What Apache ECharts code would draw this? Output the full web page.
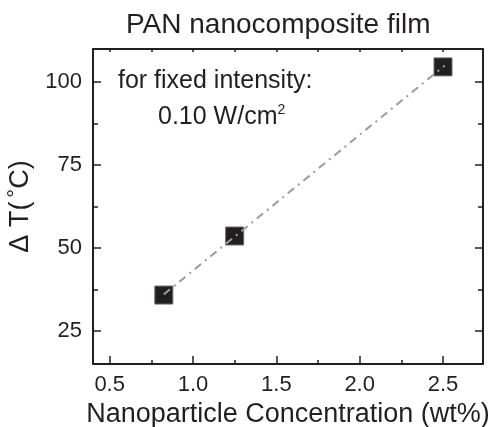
<!DOCTYPE html>
<html>
<head>
<meta charset="utf-8">
<script src="https://cdn.jsdelivr.net/npm/echarts@6/dist/echarts.min.js"></script>
<style>
  html, body { margin: 0; padding: 0; background: #fff; }
  #chart { width: 498px; height: 427px; }
</style>
</head>
<body>
<div id="chart"></div>
<script>
// Temperature rise vs. nanoparticle loading in a PAN film
const concentration = [0.825, 1.25, 2.5];      // wt%
const deltaT = [35.8, 53.6, 104.6];            // °C

// Linear fit line endpoints (dash-dot)
const fitX = [0.825, 2.51];
const fitY = [36.0, 105.0];

// Tick positions
const xMajorTicks = [0.5, 1.0, 1.5, 2.0, 2.5];
const xMinorTicks = [0.75, 1.25, 1.75, 2.25];
const yMajorTicks = [25, 50, 75, 100];
const yMinorTicks = [37.5, 62.5, 87.5];

const X_MIN = 0.4, X_MAX = 2.74;
const Y_MIN = 15, Y_MAX = 110;

const FONT = 'Liberation Sans, Arial, Helvetica, sans-serif';
const INK = '#231f20';

function frameAxis(pos, ticks, len, opts) {
  return Object.assign({
    type: 'value',
    position: pos,
    axisLine: { show: true, onZero: false, lineStyle: { color: INK, width: 2 } },
    axisTick: { show: true, inside: true, length: len, customValues: ticks,
                lineStyle: { color: INK, width: 1.5 } },
    axisLabel: { show: false },
    splitLine: { show: false }
  }, opts);
}

const chart = echarts.init(document.getElementById('chart'), null, { renderer: 'canvas' });

const xBase = { min: X_MIN, max: X_MAX };
const yBase = { min: Y_MIN, max: Y_MAX };

chart.setOption({
  animation: false,
  backgroundColor: '#fff',
  title: {
    text: 'PAN nanocomposite film',
    left: 121,
    top: 6,
    textStyle: { fontFamily: FONT, fontSize: 28, fontWeight: 'normal', color: INK }
  },
  grid: { left: 93, right: 15, top: 49, bottom: 63, outerBoundsMode: 'none', containLabel: false },
  xAxis: [
    frameAxis('bottom', xMajorTicks, 8, Object.assign({}, xBase, {
      name: 'Nanoparticle Concentration (wt%)',
      nameLocation: 'middle',
      nameGap: 34,
      nameTextStyle: { fontFamily: FONT, fontSize: 27, color: INK },
      axisLabel: {
        show: true, customValues: xMajorTicks, margin: 10,
        fontFamily: FONT, fontSize: 22, color: INK,
        formatter: v => Number(v).toFixed(1)
      }
    })),
    frameAxis('bottom', xMinorTicks, 4, Object.assign({}, xBase, { axisLine: { show: false } })),
    frameAxis('top', xMajorTicks.concat(xMinorTicks), 3, Object.assign({}, xBase))
  ],
  yAxis: [
    frameAxis('left', yMajorTicks, 8, Object.assign({}, yBase, {
      name: '{a|Δ T(}{s|°}{a|C)}',
      nameLocation: 'middle',
      nameGap: 52,
      nameRotate: 90,
      nameTextStyle: {
        fontFamily: FONT, fontSize: 27, color: INK,
        rich: {
          a: { fontFamily: FONT, fontSize: 27, color: INK },
          s: { fontFamily: FONT, fontSize: 22, color: INK, verticalAlign: 'top', padding: [0, 0, 8, 4] }
        }
      },
      axisLabel: {
        show: true, customValues: yMajorTicks, margin: 11,
        fontFamily: FONT, fontSize: 22, color: INK
      }
    })),
    frameAxis('left', yMinorTicks, 5, Object.assign({}, yBase, { axisLine: { show: false } })),
    frameAxis('right', yMajorTicks, 8, Object.assign({}, yBase)),
    frameAxis('right', yMinorTicks, 5, Object.assign({}, yBase, { axisLine: { show: false } }))
  ],
  graphic: [
    {
      type: 'text', left: 118, top: 69, z: 10,
      style: { text: 'for fixed intensity:', font: '25px ' + FONT, fill: INK }
    },
    {
      type: 'text', left: 158, top: 103, z: 10,
      style: {
        text: '{a|0.10 W/cm}{s|2}',
        fill: INK,
        rich: {
          a: { fontFamily: FONT, fontSize: 25, fill: INK },
          s: { fontFamily: FONT, fontSize: 14, fill: INK, verticalAlign: 'top', padding: [0, 0, 14, 0] }
        }
      }
    }
  ],
  series: [
    {
      type: 'scatter',
      xAxisIndex: 0, yAxisIndex: 0,
      symbol: 'rect',
      symbolSize: 18,
      itemStyle: { color: INK, borderColor: '#6a6a6a', borderWidth: 1, opacity: 1 },
      data: concentration.map((x, i) => [x, deltaT[i]]),
      z: 2
    },
    {
      type: 'line',
      xAxisIndex: 0, yAxisIndex: 0,
      symbol: 'none',
      lineStyle: { color: '#9b9b9b', width: 2, type: [8, 5, 2, 5] },
      data: fitX.map((x, i) => [x, fitY[i]]),
      z: 3
    }
  ]
});
</script>
</body>
</html>
